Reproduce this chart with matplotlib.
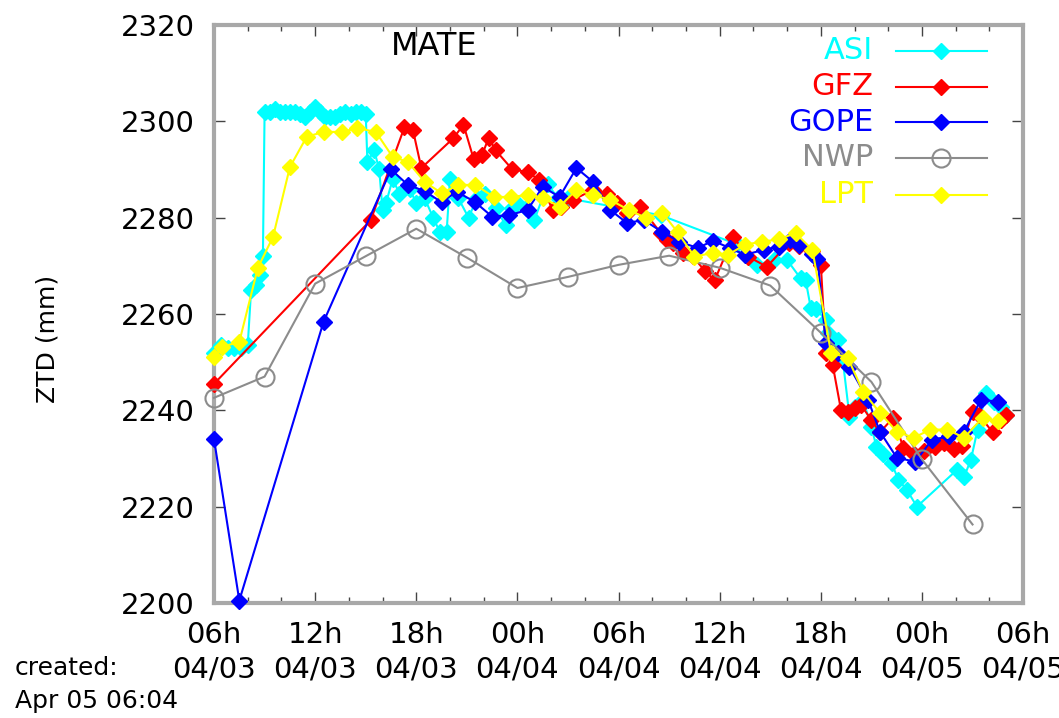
import matplotlib
matplotlib.use('Agg')
import matplotlib.pyplot as plt
from matplotlib.ticker import FixedLocator, MultipleLocator
from matplotlib.lines import Line2D

# x values: hours since 06h 04/03
asi_t = [0.0, 0.4, 0.8, 1.2, 1.6, 2.0, 2.2, 2.5, 2.7, 2.9,
         3.0, 3.3, 3.6, 3.9, 4.2, 4.5, 4.8, 5.1, 5.4, 5.7, 6.0, 6.3, 6.6, 6.9,
         7.2, 7.5, 7.8, 8.1, 8.4, 8.7, 9.0,
         9.1, 9.5, 9.8, 10.0, 10.2, 10.6, 11.0, 11.6, 12.0, 12.5, 13.0, 13.4,
         13.8, 14.0, 14.5, 15.1, 15.6, 16.1, 16.7, 17.3, 17.7, 18.0, 18.5, 19.0,
         19.8, 20.4, 21.0, 26.5, 31.0, 32.2, 33.2, 34.0, 34.8, 35.1, 35.4, 35.7,
         36.3, 36.4, 37.0, 37.3, 37.7, 38.0, 38.5, 39.0, 39.3, 39.7, 40.2, 40.6,
         41.1, 41.7, 44.1, 44.5, 44.9, 45.3, 45.8, 46.3, 46.7, 47.0]
asi_v = [2252, 2253.5, 2253, 2253, 2253, 2253.5, 2265, 2266, 2268, 2272,
         2302, 2302, 2302.5, 2302, 2302, 2302, 2302, 2301.5, 2301, 2302, 2303, 2302, 2301, 2301,
         2301, 2301.5, 2302, 2301.5, 2302, 2302, 2301.5,
         2291.5, 2294, 2290, 2281.5, 2283, 2288, 2285, 2286, 2283, 2284, 2280, 2277,
         2277, 2288, 2284, 2280, 2284, 2285, 2282, 2278.5, 2282, 2283, 2282, 2279.5,
         2287, 2284, 2284, 2280.5, 2274.5, 2270.2, 2271.2, 2271.2, 2267.4, 2267, 2261.3, 2261,
         2258.8, 2256, 2254.6, 2250.5, 2238.7, 2240.7, 2242.2, 2236.6, 2232.4, 2231, 2229, 2225.6,
         2223.5, 2220, 2227.7, 2226.2, 2229.7, 2236, 2243.6, 2241.8, 2240.7, 2239]

gfz_t = [0.0, 9.3, 11.3, 11.8, 12.3, 14.2, 14.8, 15.4, 15.9, 16.3, 16.7, 17.7,
         18.6, 19.3, 20.1, 20.6, 21.3, 22.5, 23.3, 23.9, 24.5, 25.3, 26.5, 26.9,
         27.2, 27.8, 28.4, 29.1, 29.7, 30.8, 31.7, 32.8, 34.1, 34.7, 35.5, 36.0,
         36.3, 36.7, 37.2, 37.6, 38.0, 38.4, 39.0, 39.5, 40.3, 40.9, 41.5, 42.1,
         42.8, 43.3, 43.9, 44.4, 45.0, 45.4, 46.2, 46.7, 47.0]
gfz_v = [2245.5, 2279.5, 2298.8, 2298.2, 2290.3, 2296.5, 2299.3, 2292.2, 2293, 2296.6, 2294, 2290,
         2289.5, 2287.8, 2281.5, 2282.3, 2283.7, 2285.8, 2285, 2283, 2281, 2282.3, 2276.8, 2275.4,
         2274.8, 2272.7, 2272, 2269, 2267, 2276, 2271.9, 2269.8, 2274.8, 2274.2, 2273, 2270.2,
         2252, 2249.5, 2240, 2239.7, 2240.5, 2241, 2238, 2235.4, 2238.5, 2232.2, 2231, 2231.6,
         2232.3, 2233.3, 2232, 2232.6, 2239.7, 2239, 2235.4, 2238, 2239]

gope_t = [0.0, 1.5, 6.5, 10.5, 11.5, 12.5, 13.5, 14.4, 15.5, 16.5, 17.5, 18.6,
          19.5, 20.5, 21.5, 22.5, 23.5, 24.5, 25.5, 26.6, 27.6, 28.7, 29.6, 30.6,
          31.5, 32.6, 33.5, 34.2, 34.7, 35.5, 35.8, 36.3, 37.0, 37.7, 38.8, 39.5,
          40.5, 41.6, 42.6, 43.6, 44.5, 45.5, 46.5]
gope_v = [2234, 2200.5, 2258.4, 2290, 2286.8, 2285.5, 2283.2, 2285.4, 2283.2, 2280.2, 2280.5, 2281.6,
          2286.4, 2284.3, 2290.3, 2287.4, 2281.6, 2278.9, 2279.5, 2277, 2275, 2273.7, 2275.2, 2273.7,
          2272.3, 2273.3, 2274, 2275.3, 2274.4, 2272.5, 2271.5, 2254, 2252, 2249, 2242.2, 2235.6,
          2230.2, 2229.3, 2233.9, 2234.6, 2235.6, 2242.2, 2241.8]

nwp_t = [0, 3, 6, 9, 12, 15, 18, 21, 24, 27, 30, 33, 36, 39, 42, 45]
nwp_v = [2242.6, 2247, 2266.3, 2272, 2277.7, 2271.7, 2265.4, 2267.7, 2270.2, 2272.1,
         2269.6, 2265.9, 2256.1, 2245.9, 2229.8, 2216.3]

lpt_t = [0.0, 0.5, 1.5, 2.6, 3.5, 4.5, 5.5, 6.5, 7.6, 8.5, 9.6, 10.6, 11.5, 12.5,
         13.5, 14.5, 15.5, 16.6, 17.6, 18.6, 19.5, 20.5, 21.5, 22.5, 23.5, 24.6,
         25.6, 26.6, 27.5, 28.5, 29.6, 30.5, 31.5, 32.5, 33.5, 34.5, 35.5, 36.6,
         37.6, 38.5, 39.5, 40.5, 41.5, 42.5, 43.5, 44.5, 45.6, 46.5]
lpt_v = [2251, 2253.2, 2254.2, 2269.6, 2276, 2290.5, 2296.8, 2297.8, 2297.8, 2298.6, 2297.8, 2292.6,
         2291.6, 2287.4, 2285.1, 2286.8, 2286.8, 2284.3, 2284.3, 2284.7, 2284.1, 2282.3, 2285.8,
         2284.7, 2283.7, 2281.6, 2280, 2281, 2277, 2271.9, 2272.7, 2272.3, 2274.4, 2275, 2275.5,
         2276.8, 2273.3, 2252, 2250.9, 2243.9, 2239.5, 2235.6, 2234.3, 2236, 2236, 2234.3,
         2238.5, 2237.7]

series_names = ['ASI', 'GFZ', 'GOPE', 'NWP', 'LPT']
series_colors = ['#00ffff', '#ff0000', '#0000ff', '#8c8c8c', '#ffff00']

xtick_hours = [0, 6, 12, 18, 24, 30, 36, 42, 48]
xtick_labels = ['06h\n04/03', '12h\n04/03', '18h\n04/03', '00h\n04/04', '06h\n04/04',
                '12h\n04/04', '18h\n04/04', '00h\n04/05', '06h\n04/05']
ytick_values = [2200, 2220, 2240, 2260, 2280, 2300, 2320]

fig = plt.figure(figsize=(10.59, 7.18), dpi=100)
ax = fig.add_axes([0.2021, 0.1602, 0.764, 0.805])

data = [(asi_t, asi_v), (gfz_t, gfz_v), (gope_t, gope_v), (nwp_t, nwp_v), (lpt_t, lpt_v)]
for i, ((t, v), name, c) in enumerate(zip(data, series_names, series_colors)):
    if name == 'NWP':
        ax.plot(t, v, color=c, lw=1.5, marker='o', ms=13, mfc='none', mec=c, mew=1.5,
                zorder=3 + i, clip_on=False)
    else:
        ax.plot(t, v, color=c, lw=1.5, marker='D', ms=8.5, mfc=c, mec=c, mew=1,
                zorder=3 + i, clip_on=False)

ax.set_xlim(0, 48)
ax.set_ylim(2200, 2320)
ax.xaxis.set_major_locator(FixedLocator(xtick_hours))
ax.set_xticklabels(xtick_labels)
ax.xaxis.set_minor_locator(MultipleLocator(2))
ax.yaxis.set_major_locator(FixedLocator(ytick_values))
ax.tick_params(axis='both', which='both', direction='in', top=True, right=True,
               color='#444444', labelsize=21)
ax.tick_params(axis='both', which='major', length=8, width=1)
ax.tick_params(axis='both', which='minor', length=4, width=1)
ax.tick_params(axis='x', which='major', pad=13)
ax.tick_params(axis='y', which='major', pad=14)
for lbl in ax.get_xticklabels():
    lbl.set_linespacing(1.3)
for sp in ax.spines.values():
    sp.set_color('#a8a8a8')
    sp.set_linewidth(3)

fig.text(47 / 1059, 1 - 339 / 718, 'ZTD (mm)', rotation=90, ha='center', va='center', fontsize=18)
ax.text(0.272, 0.962, 'MATE', transform=ax.transAxes, ha='center', va='center', fontsize=23)

# legend (manual, right-aligned labels)
row_y = [0.955, 0.893, 0.832, 0.770, 0.706]
for name, c, y in zip(series_names, series_colors, row_y):
    ax.text(0.8146, y, name, transform=ax.transAxes, ha='right', va='center', fontsize=22, color=c)
    ax.add_line(Line2D([0.843, 0.9555], [y, y], transform=ax.transAxes, color=c, lw=1.5, zorder=10))
    if name == 'NWP':
        ax.add_line(Line2D([0.898], [y], transform=ax.transAxes, color=c, marker='o', ms=13,
                           mfc='none', mec=c, mew=1.5, zorder=10))
    else:
        ax.add_line(Line2D([0.898], [y], transform=ax.transAxes, color=c, marker='D', ms=8.5,
                           mfc=c, mec=c, zorder=10))

fig.text(15 / 1059, 1 - 668 / 718, 'created:', ha='left', va='center', fontsize=18)
fig.text(15 / 1059, 1 - 701 / 718, 'Apr 05 06:04', ha='left', va='center', fontsize=18)

fig.savefig('out.png', dpi=100)
